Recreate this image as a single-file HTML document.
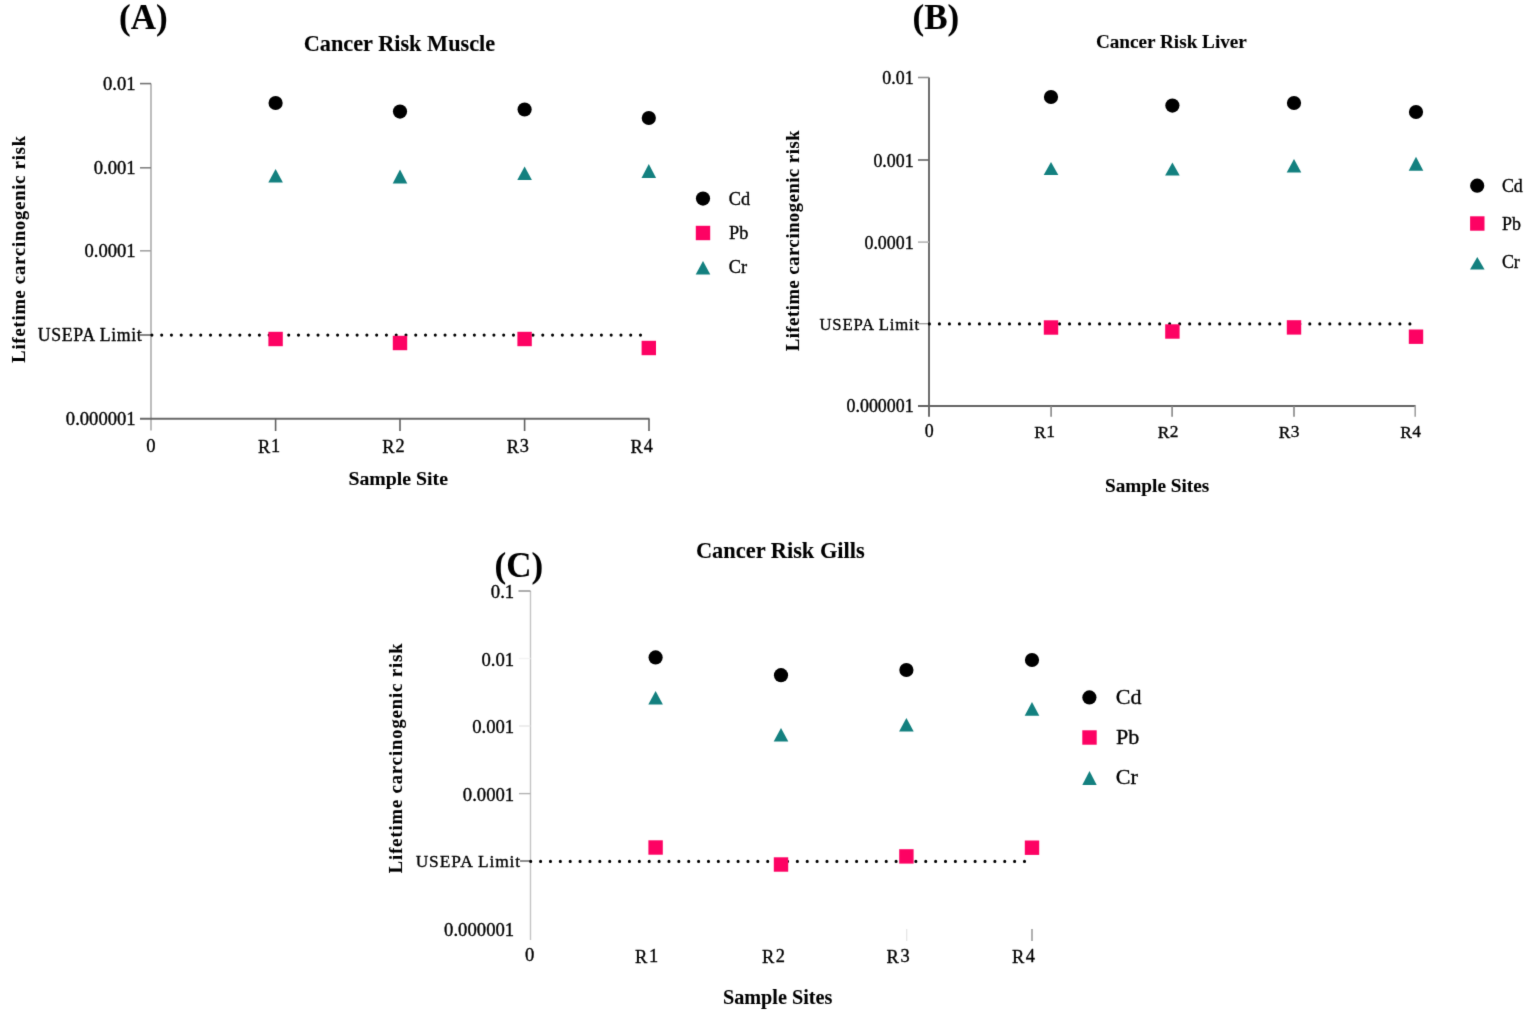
<!DOCTYPE html>
<html><head><meta charset="utf-8"><title>Cancer Risk</title>
<style>
html,body{margin:0;padding:0;background:#fff;}
body{width:1535px;height:1018px;overflow:hidden;}
svg{display:block;}
text{font-family:"Liberation Serif","Times New Roman",serif;stroke:#000;stroke-width:0.35px;}
text[font-weight=bold]{stroke-width:0.1px;}
</style></head><body>
<svg width="1535" height="1018" viewBox="0 0 1535 1018">
<defs><filter id="soft" x="0" y="0" width="1535" height="1018" filterUnits="userSpaceOnUse" color-interpolation-filters="sRGB"><feConvolveMatrix order="3" kernelMatrix="0.01134 0.08382 0.01134 0.08382 0.61935 0.08382 0.01134 0.08382 0.01134" divisor="1" edgeMode="duplicate" preserveAlpha="false"/></filter></defs>
<rect width="1535" height="1018" fill="#fff"/>
<g filter="url(#soft)" stroke-linejoin="round">
<text x="119.01" y="28.80" font-size="35.00" font-weight="bold" fill="#000">(A)</text>
<text x="303.64" y="51.30" font-size="22.30" font-weight="bold" fill="#000">Cancer Risk Muscle</text>
<text transform="translate(24.80,362.72) rotate(-90)" x="0" y="0" font-size="18.40" font-weight="bold" letter-spacing="0.87">Lifetime carcinogenic risk</text>
<line x1="151.00" y1="83.60" x2="151.00" y2="430.60" stroke="#acacac" stroke-width="1.6"/>
<line x1="140.00" y1="83.60" x2="151.00" y2="83.60" stroke="#747474" stroke-width="1.6"/>
<line x1="140.00" y1="167.80" x2="151.00" y2="167.80" stroke="#848484" stroke-width="1.6"/>
<line x1="140.00" y1="250.80" x2="151.00" y2="250.80" stroke="#a4a4a4" stroke-width="1.6"/>
<line x1="140.00" y1="335.00" x2="151.00" y2="335.00" stroke="#666" stroke-width="1.6"/>
<line x1="140.00" y1="418.70" x2="649.50" y2="418.70" stroke="#686868" stroke-width="2.0"/>
<line x1="275.60" y1="418.70" x2="275.60" y2="431.00" stroke="#606060" stroke-width="1.6"/>
<line x1="400.00" y1="418.70" x2="400.00" y2="431.00" stroke="#606060" stroke-width="1.6"/>
<line x1="524.60" y1="418.70" x2="524.60" y2="431.00" stroke="#606060" stroke-width="1.6"/>
<line x1="649.00" y1="418.70" x2="649.00" y2="431.00" stroke="#606060" stroke-width="1.6"/>
<text x="103.07" y="90.10" font-size="18.60" fill="#000">0.01</text>
<text x="93.77" y="174.30" font-size="18.60" fill="#000">0.001</text>
<text x="84.47" y="257.30" font-size="18.60" fill="#000">0.0001</text>
<text x="65.87" y="425.20" font-size="18.60" fill="#000">0.000001</text>
<text x="37.72" y="340.90" font-size="17.80" fill="#000" letter-spacing="0.64">USEPA Limit</text>
<text x="146.35" y="452.00" font-size="18.60" fill="#000">0</text>
<text x="258.03" y="453.30" font-size="18.30" letter-spacing="0.90">R<tspan dy="-1.20">1</tspan></text>
<text x="382.34" y="453.30" font-size="18.30" letter-spacing="0.90">R<tspan dy="-1.20">2</tspan></text>
<text x="506.67" y="453.30" font-size="18.30" letter-spacing="0.90">R<tspan dy="-1.20">3</tspan></text>
<text x="630.61" y="453.30" font-size="18.30" letter-spacing="0.90">R<tspan dy="-1.20">4</tspan></text>
<text x="348.46" y="485.00" font-size="19.80" font-weight="bold" fill="#000">Sample Site</text>
<path d="M150.35 335.10a1.55 1.55 0 1 0 3.10 0a1.55 1.55 0 1 0 -3.10 0M160.12 335.10a1.55 1.55 0 1 0 3.10 0a1.55 1.55 0 1 0 -3.10 0M169.89 335.10a1.55 1.55 0 1 0 3.10 0a1.55 1.55 0 1 0 -3.10 0M179.67 335.10a1.55 1.55 0 1 0 3.10 0a1.55 1.55 0 1 0 -3.10 0M189.44 335.10a1.55 1.55 0 1 0 3.10 0a1.55 1.55 0 1 0 -3.10 0M199.21 335.10a1.55 1.55 0 1 0 3.10 0a1.55 1.55 0 1 0 -3.10 0M208.98 335.10a1.55 1.55 0 1 0 3.10 0a1.55 1.55 0 1 0 -3.10 0M218.75 335.10a1.55 1.55 0 1 0 3.10 0a1.55 1.55 0 1 0 -3.10 0M228.53 335.10a1.55 1.55 0 1 0 3.10 0a1.55 1.55 0 1 0 -3.10 0M238.30 335.10a1.55 1.55 0 1 0 3.10 0a1.55 1.55 0 1 0 -3.10 0M248.07 335.10a1.55 1.55 0 1 0 3.10 0a1.55 1.55 0 1 0 -3.10 0M257.84 335.10a1.55 1.55 0 1 0 3.10 0a1.55 1.55 0 1 0 -3.10 0M267.61 335.10a1.55 1.55 0 1 0 3.10 0a1.55 1.55 0 1 0 -3.10 0M277.39 335.10a1.55 1.55 0 1 0 3.10 0a1.55 1.55 0 1 0 -3.10 0M287.16 335.10a1.55 1.55 0 1 0 3.10 0a1.55 1.55 0 1 0 -3.10 0M296.93 335.10a1.55 1.55 0 1 0 3.10 0a1.55 1.55 0 1 0 -3.10 0M306.70 335.10a1.55 1.55 0 1 0 3.10 0a1.55 1.55 0 1 0 -3.10 0M316.47 335.10a1.55 1.55 0 1 0 3.10 0a1.55 1.55 0 1 0 -3.10 0M326.25 335.10a1.55 1.55 0 1 0 3.10 0a1.55 1.55 0 1 0 -3.10 0M336.02 335.10a1.55 1.55 0 1 0 3.10 0a1.55 1.55 0 1 0 -3.10 0M345.79 335.10a1.55 1.55 0 1 0 3.10 0a1.55 1.55 0 1 0 -3.10 0M355.56 335.10a1.55 1.55 0 1 0 3.10 0a1.55 1.55 0 1 0 -3.10 0M365.33 335.10a1.55 1.55 0 1 0 3.10 0a1.55 1.55 0 1 0 -3.10 0M375.11 335.10a1.55 1.55 0 1 0 3.10 0a1.55 1.55 0 1 0 -3.10 0M384.88 335.10a1.55 1.55 0 1 0 3.10 0a1.55 1.55 0 1 0 -3.10 0M394.65 335.10a1.55 1.55 0 1 0 3.10 0a1.55 1.55 0 1 0 -3.10 0M404.42 335.10a1.55 1.55 0 1 0 3.10 0a1.55 1.55 0 1 0 -3.10 0M414.19 335.10a1.55 1.55 0 1 0 3.10 0a1.55 1.55 0 1 0 -3.10 0M423.97 335.10a1.55 1.55 0 1 0 3.10 0a1.55 1.55 0 1 0 -3.10 0M433.74 335.10a1.55 1.55 0 1 0 3.10 0a1.55 1.55 0 1 0 -3.10 0M443.51 335.10a1.55 1.55 0 1 0 3.10 0a1.55 1.55 0 1 0 -3.10 0M453.28 335.10a1.55 1.55 0 1 0 3.10 0a1.55 1.55 0 1 0 -3.10 0M463.05 335.10a1.55 1.55 0 1 0 3.10 0a1.55 1.55 0 1 0 -3.10 0M472.83 335.10a1.55 1.55 0 1 0 3.10 0a1.55 1.55 0 1 0 -3.10 0M482.60 335.10a1.55 1.55 0 1 0 3.10 0a1.55 1.55 0 1 0 -3.10 0M492.37 335.10a1.55 1.55 0 1 0 3.10 0a1.55 1.55 0 1 0 -3.10 0M502.14 335.10a1.55 1.55 0 1 0 3.10 0a1.55 1.55 0 1 0 -3.10 0M511.91 335.10a1.55 1.55 0 1 0 3.10 0a1.55 1.55 0 1 0 -3.10 0M521.69 335.10a1.55 1.55 0 1 0 3.10 0a1.55 1.55 0 1 0 -3.10 0M531.46 335.10a1.55 1.55 0 1 0 3.10 0a1.55 1.55 0 1 0 -3.10 0M541.23 335.10a1.55 1.55 0 1 0 3.10 0a1.55 1.55 0 1 0 -3.10 0M551.00 335.10a1.55 1.55 0 1 0 3.10 0a1.55 1.55 0 1 0 -3.10 0M560.77 335.10a1.55 1.55 0 1 0 3.10 0a1.55 1.55 0 1 0 -3.10 0M570.55 335.10a1.55 1.55 0 1 0 3.10 0a1.55 1.55 0 1 0 -3.10 0M580.32 335.10a1.55 1.55 0 1 0 3.10 0a1.55 1.55 0 1 0 -3.10 0M590.09 335.10a1.55 1.55 0 1 0 3.10 0a1.55 1.55 0 1 0 -3.10 0M599.86 335.10a1.55 1.55 0 1 0 3.10 0a1.55 1.55 0 1 0 -3.10 0M609.63 335.10a1.55 1.55 0 1 0 3.10 0a1.55 1.55 0 1 0 -3.10 0M619.41 335.10a1.55 1.55 0 1 0 3.10 0a1.55 1.55 0 1 0 -3.10 0M629.18 335.10a1.55 1.55 0 1 0 3.10 0a1.55 1.55 0 1 0 -3.10 0M638.95 335.10a1.55 1.55 0 1 0 3.10 0a1.55 1.55 0 1 0 -3.10 0" fill="#000"/>
<circle cx="275.60" cy="103.00" r="7.10" fill="#000"/>
<polygon points="275.60,169.00 282.90,182.60 268.30,182.60" fill="#13807f"/>
<rect x="268.40" y="331.80" width="14.40" height="14.40" fill="#fd0263"/>
<circle cx="400.00" cy="111.60" r="7.10" fill="#000"/>
<polygon points="400.00,169.60 407.30,183.40 392.70,183.40" fill="#13807f"/>
<rect x="392.80" y="335.80" width="14.40" height="14.40" fill="#fd0263"/>
<circle cx="524.60" cy="109.50" r="7.10" fill="#000"/>
<polygon points="524.60,166.40 531.90,180.00 517.30,180.00" fill="#13807f"/>
<rect x="517.40" y="331.80" width="14.40" height="14.40" fill="#fd0263"/>
<circle cx="648.80" cy="118.00" r="7.10" fill="#000"/>
<polygon points="648.80,164.00 656.10,178.00 641.50,178.00" fill="#13807f"/>
<rect x="641.60" y="340.80" width="14.40" height="14.40" fill="#fd0263"/>
<circle cx="703.00" cy="198.60" r="7.10" fill="#000"/>
<rect x="695.80" y="225.80" width="14.40" height="14.40" fill="#fd0263"/>
<polygon points="703.00,261.00 710.30,274.40 695.70,274.40" fill="#13807f"/>
<text x="728.77" y="205.00" font-size="18.30" fill="#000">Cd</text>
<text x="729.00" y="239.00" font-size="18.30" fill="#000">Pb</text>
<text x="728.77" y="273.00" font-size="18.30" fill="#000">Cr</text>
<text x="912.51" y="28.80" font-size="35.00" font-weight="bold" fill="#000">(B)</text>
<text x="1095.89" y="48.00" font-size="19.20" font-weight="bold" fill="#000">Cancer Risk Liver</text>
<text transform="translate(799.30,351.12) rotate(-90)" x="0" y="0" font-size="18.40" font-weight="bold" letter-spacing="0.63">Lifetime carcinogenic risk</text>
<line x1="929.00" y1="77.50" x2="929.00" y2="416.80" stroke="#5c5c5c" stroke-width="1.8"/>
<line x1="918.00" y1="77.50" x2="929.00" y2="77.50" stroke="#909090" stroke-width="1.6"/>
<line x1="918.00" y1="160.00" x2="929.00" y2="160.00" stroke="#626262" stroke-width="1.6"/>
<line x1="918.00" y1="242.10" x2="929.00" y2="242.10" stroke="#b4b4b4" stroke-width="1.6"/>
<line x1="918.00" y1="323.70" x2="929.00" y2="323.70" stroke="#9a9a9a" stroke-width="1.3"/>
<line x1="918.00" y1="406.00" x2="1415.60" y2="406.00" stroke="#646464" stroke-width="2.0"/>
<line x1="1051.10" y1="406.00" x2="1051.10" y2="416.80" stroke="#868686" stroke-width="1.6"/>
<line x1="1172.10" y1="406.00" x2="1172.10" y2="416.80" stroke="#868686" stroke-width="1.6"/>
<line x1="1294.00" y1="406.00" x2="1294.00" y2="416.80" stroke="#868686" stroke-width="1.6"/>
<line x1="1415.20" y1="406.00" x2="1415.20" y2="416.80" stroke="#a0a0a0" stroke-width="1.6"/>
<text x="882.35" y="84.40" font-size="17.90" fill="#000">0.01</text>
<text x="873.40" y="167.00" font-size="17.90" fill="#000">0.001</text>
<text x="864.45" y="248.70" font-size="17.90" fill="#000">0.0001</text>
<text x="846.55" y="412.00" font-size="17.90" fill="#000">0.000001</text>
<text x="819.47" y="329.60" font-size="16.70" fill="#000" letter-spacing="0.80">USEPA Limit</text>
<text x="924.73" y="437.00" font-size="17.90" fill="#000">0</text>
<text x="1034.33" y="438.20" font-size="17.40" letter-spacing="0.30">R<tspan dy="-1.20">1</tspan></text>
<text x="1157.74" y="438.20" font-size="17.40" letter-spacing="0.30">R<tspan dy="-1.20">2</tspan></text>
<text x="1278.78" y="438.20" font-size="17.40" letter-spacing="0.30">R<tspan dy="-1.20">3</tspan></text>
<text x="1400.35" y="438.20" font-size="17.40" letter-spacing="0.30">R<tspan dy="-1.20">4</tspan></text>
<text x="1104.99" y="491.80" font-size="19.25" font-weight="bold" fill="#000">Sample Sites</text>
<path d="M927.85 323.90a1.55 1.55 0 1 0 3.10 0a1.55 1.55 0 1 0 -3.10 0M937.86 323.90a1.55 1.55 0 1 0 3.10 0a1.55 1.55 0 1 0 -3.10 0M947.87 323.90a1.55 1.55 0 1 0 3.10 0a1.55 1.55 0 1 0 -3.10 0M957.88 323.90a1.55 1.55 0 1 0 3.10 0a1.55 1.55 0 1 0 -3.10 0M967.89 323.90a1.55 1.55 0 1 0 3.10 0a1.55 1.55 0 1 0 -3.10 0M977.90 323.90a1.55 1.55 0 1 0 3.10 0a1.55 1.55 0 1 0 -3.10 0M987.91 323.90a1.55 1.55 0 1 0 3.10 0a1.55 1.55 0 1 0 -3.10 0M997.92 323.90a1.55 1.55 0 1 0 3.10 0a1.55 1.55 0 1 0 -3.10 0M1007.93 323.90a1.55 1.55 0 1 0 3.10 0a1.55 1.55 0 1 0 -3.10 0M1017.94 323.90a1.55 1.55 0 1 0 3.10 0a1.55 1.55 0 1 0 -3.10 0M1027.95 323.90a1.55 1.55 0 1 0 3.10 0a1.55 1.55 0 1 0 -3.10 0M1037.96 323.90a1.55 1.55 0 1 0 3.10 0a1.55 1.55 0 1 0 -3.10 0M1047.98 323.90a1.55 1.55 0 1 0 3.10 0a1.55 1.55 0 1 0 -3.10 0M1057.99 323.90a1.55 1.55 0 1 0 3.10 0a1.55 1.55 0 1 0 -3.10 0M1068.00 323.90a1.55 1.55 0 1 0 3.10 0a1.55 1.55 0 1 0 -3.10 0M1078.01 323.90a1.55 1.55 0 1 0 3.10 0a1.55 1.55 0 1 0 -3.10 0M1088.02 323.90a1.55 1.55 0 1 0 3.10 0a1.55 1.55 0 1 0 -3.10 0M1098.03 323.90a1.55 1.55 0 1 0 3.10 0a1.55 1.55 0 1 0 -3.10 0M1108.04 323.90a1.55 1.55 0 1 0 3.10 0a1.55 1.55 0 1 0 -3.10 0M1118.05 323.90a1.55 1.55 0 1 0 3.10 0a1.55 1.55 0 1 0 -3.10 0M1128.06 323.90a1.55 1.55 0 1 0 3.10 0a1.55 1.55 0 1 0 -3.10 0M1138.07 323.90a1.55 1.55 0 1 0 3.10 0a1.55 1.55 0 1 0 -3.10 0M1148.08 323.90a1.55 1.55 0 1 0 3.10 0a1.55 1.55 0 1 0 -3.10 0M1158.09 323.90a1.55 1.55 0 1 0 3.10 0a1.55 1.55 0 1 0 -3.10 0M1168.10 323.90a1.55 1.55 0 1 0 3.10 0a1.55 1.55 0 1 0 -3.10 0M1178.11 323.90a1.55 1.55 0 1 0 3.10 0a1.55 1.55 0 1 0 -3.10 0M1188.12 323.90a1.55 1.55 0 1 0 3.10 0a1.55 1.55 0 1 0 -3.10 0M1198.13 323.90a1.55 1.55 0 1 0 3.10 0a1.55 1.55 0 1 0 -3.10 0M1208.14 323.90a1.55 1.55 0 1 0 3.10 0a1.55 1.55 0 1 0 -3.10 0M1218.15 323.90a1.55 1.55 0 1 0 3.10 0a1.55 1.55 0 1 0 -3.10 0M1228.16 323.90a1.55 1.55 0 1 0 3.10 0a1.55 1.55 0 1 0 -3.10 0M1238.17 323.90a1.55 1.55 0 1 0 3.10 0a1.55 1.55 0 1 0 -3.10 0M1248.18 323.90a1.55 1.55 0 1 0 3.10 0a1.55 1.55 0 1 0 -3.10 0M1258.19 323.90a1.55 1.55 0 1 0 3.10 0a1.55 1.55 0 1 0 -3.10 0M1268.20 323.90a1.55 1.55 0 1 0 3.10 0a1.55 1.55 0 1 0 -3.10 0M1278.21 323.90a1.55 1.55 0 1 0 3.10 0a1.55 1.55 0 1 0 -3.10 0M1288.23 323.90a1.55 1.55 0 1 0 3.10 0a1.55 1.55 0 1 0 -3.10 0M1298.24 323.90a1.55 1.55 0 1 0 3.10 0a1.55 1.55 0 1 0 -3.10 0M1308.25 323.90a1.55 1.55 0 1 0 3.10 0a1.55 1.55 0 1 0 -3.10 0M1318.26 323.90a1.55 1.55 0 1 0 3.10 0a1.55 1.55 0 1 0 -3.10 0M1328.27 323.90a1.55 1.55 0 1 0 3.10 0a1.55 1.55 0 1 0 -3.10 0M1338.28 323.90a1.55 1.55 0 1 0 3.10 0a1.55 1.55 0 1 0 -3.10 0M1348.29 323.90a1.55 1.55 0 1 0 3.10 0a1.55 1.55 0 1 0 -3.10 0M1358.30 323.90a1.55 1.55 0 1 0 3.10 0a1.55 1.55 0 1 0 -3.10 0M1368.31 323.90a1.55 1.55 0 1 0 3.10 0a1.55 1.55 0 1 0 -3.10 0M1378.32 323.90a1.55 1.55 0 1 0 3.10 0a1.55 1.55 0 1 0 -3.10 0M1388.33 323.90a1.55 1.55 0 1 0 3.10 0a1.55 1.55 0 1 0 -3.10 0M1398.34 323.90a1.55 1.55 0 1 0 3.10 0a1.55 1.55 0 1 0 -3.10 0M1408.35 323.90a1.55 1.55 0 1 0 3.10 0a1.55 1.55 0 1 0 -3.10 0" fill="#000"/>
<circle cx="1051.00" cy="97.00" r="7.10" fill="#000"/>
<polygon points="1051.00,162.00 1058.30,175.00 1043.70,175.00" fill="#13807f"/>
<rect x="1043.80" y="320.30" width="14.40" height="14.40" fill="#fd0263"/>
<circle cx="1172.40" cy="105.60" r="7.10" fill="#000"/>
<polygon points="1172.40,162.40 1179.70,175.60 1165.10,175.60" fill="#13807f"/>
<rect x="1165.20" y="324.30" width="14.40" height="14.40" fill="#fd0263"/>
<circle cx="1294.00" cy="103.00" r="7.10" fill="#000"/>
<polygon points="1294.00,159.00 1301.30,172.40 1286.70,172.40" fill="#13807f"/>
<rect x="1286.80" y="320.20" width="14.40" height="14.40" fill="#fd0263"/>
<circle cx="1416.00" cy="112.00" r="7.10" fill="#000"/>
<polygon points="1416.00,156.70 1423.30,170.80 1408.70,170.80" fill="#13807f"/>
<rect x="1408.80" y="329.50" width="14.40" height="14.40" fill="#fd0263"/>
<circle cx="1477.20" cy="185.70" r="7.10" fill="#000"/>
<rect x="1470.10" y="216.30" width="14.40" height="14.40" fill="#fd0263"/>
<polygon points="1477.30,256.90 1484.60,269.60 1470.00,269.60" fill="#13807f"/>
<text x="1501.88" y="191.60" font-size="17.90" fill="#000">Cd</text>
<text x="1502.11" y="229.70" font-size="17.90" fill="#000">Pb</text>
<text x="1501.88" y="268.00" font-size="17.90" fill="#000">Cr</text>
<text x="494.51" y="576.50" font-size="35.00" font-weight="bold" fill="#000">(C)</text>
<text x="695.94" y="558.00" font-size="22.40" font-weight="bold" fill="#000">Cancer Risk Gills</text>
<text transform="translate(402.20,873.22) rotate(-90)" x="0" y="0" font-size="18.40" font-weight="bold" letter-spacing="0.99">Lifetime carcinogenic risk</text>
<line x1="530.50" y1="591.00" x2="530.50" y2="940.00" stroke="#c4c4c4" stroke-width="1.4"/>
<line x1="518.50" y1="591.00" x2="530.50" y2="591.00" stroke="#8a8a8a" stroke-width="1.4"/>
<line x1="519.00" y1="658.50" x2="530.50" y2="658.50" stroke="#f3f3f3" stroke-width="1.4"/>
<line x1="519.00" y1="726.00" x2="530.50" y2="726.00" stroke="#e6e6e6" stroke-width="1.4"/>
<line x1="519.00" y1="793.60" x2="530.50" y2="793.60" stroke="#b2b2b2" stroke-width="1.4"/>
<line x1="520.00" y1="861.00" x2="530.50" y2="861.00" stroke="#707070" stroke-width="1.6"/>
<text x="490.85" y="598.00" font-size="18.70" fill="#000">0.1</text>
<text x="481.50" y="665.50" font-size="18.70" fill="#000">0.01</text>
<text x="472.15" y="733.00" font-size="18.70" fill="#000">0.001</text>
<text x="462.80" y="800.60" font-size="18.70" fill="#000">0.0001</text>
<text x="444.10" y="935.50" font-size="18.70" fill="#000">0.000001</text>
<text x="415.65" y="867.40" font-size="17.40" fill="#000" letter-spacing="0.90">USEPA Limit</text>
<text x="525.12" y="961.00" font-size="18.70" fill="#000">0</text>
<text x="635.02" y="962.80" font-size="18.40" letter-spacing="1.60">R<tspan dy="-1.20">1</tspan></text>
<text x="761.93" y="962.80" font-size="18.40" letter-spacing="1.60">R<tspan dy="-1.20">2</tspan></text>
<text x="886.55" y="962.80" font-size="18.40" letter-spacing="1.60">R<tspan dy="-1.20">3</tspan></text>
<text x="1011.99" y="962.80" font-size="18.40" letter-spacing="1.60">R<tspan dy="-1.20">4</tspan></text>
<line x1="1032.00" y1="929.00" x2="1032.00" y2="941.00" stroke="#909090" stroke-width="1.4"/>
<line x1="906.70" y1="929.00" x2="906.70" y2="941.00" stroke="#e4e4e4" stroke-width="1.2"/>
<text x="722.94" y="1004.00" font-size="20.20" font-weight="bold" fill="#000">Sample Sites</text>
<path d="M529.15 861.40a1.55 1.55 0 1 0 3.10 0a1.55 1.55 0 1 0 -3.10 0M539.03 861.40a1.55 1.55 0 1 0 3.10 0a1.55 1.55 0 1 0 -3.10 0M548.90 861.40a1.55 1.55 0 1 0 3.10 0a1.55 1.55 0 1 0 -3.10 0M558.78 861.40a1.55 1.55 0 1 0 3.10 0a1.55 1.55 0 1 0 -3.10 0M568.65 861.40a1.55 1.55 0 1 0 3.10 0a1.55 1.55 0 1 0 -3.10 0M578.53 861.40a1.55 1.55 0 1 0 3.10 0a1.55 1.55 0 1 0 -3.10 0M588.41 861.40a1.55 1.55 0 1 0 3.10 0a1.55 1.55 0 1 0 -3.10 0M598.28 861.40a1.55 1.55 0 1 0 3.10 0a1.55 1.55 0 1 0 -3.10 0M608.16 861.40a1.55 1.55 0 1 0 3.10 0a1.55 1.55 0 1 0 -3.10 0M618.03 861.40a1.55 1.55 0 1 0 3.10 0a1.55 1.55 0 1 0 -3.10 0M627.91 861.40a1.55 1.55 0 1 0 3.10 0a1.55 1.55 0 1 0 -3.10 0M637.79 861.40a1.55 1.55 0 1 0 3.10 0a1.55 1.55 0 1 0 -3.10 0M647.66 861.40a1.55 1.55 0 1 0 3.10 0a1.55 1.55 0 1 0 -3.10 0M657.54 861.40a1.55 1.55 0 1 0 3.10 0a1.55 1.55 0 1 0 -3.10 0M667.41 861.40a1.55 1.55 0 1 0 3.10 0a1.55 1.55 0 1 0 -3.10 0M677.29 861.40a1.55 1.55 0 1 0 3.10 0a1.55 1.55 0 1 0 -3.10 0M687.17 861.40a1.55 1.55 0 1 0 3.10 0a1.55 1.55 0 1 0 -3.10 0M697.04 861.40a1.55 1.55 0 1 0 3.10 0a1.55 1.55 0 1 0 -3.10 0M706.92 861.40a1.55 1.55 0 1 0 3.10 0a1.55 1.55 0 1 0 -3.10 0M716.79 861.40a1.55 1.55 0 1 0 3.10 0a1.55 1.55 0 1 0 -3.10 0M726.67 861.40a1.55 1.55 0 1 0 3.10 0a1.55 1.55 0 1 0 -3.10 0M736.55 861.40a1.55 1.55 0 1 0 3.10 0a1.55 1.55 0 1 0 -3.10 0M746.42 861.40a1.55 1.55 0 1 0 3.10 0a1.55 1.55 0 1 0 -3.10 0M756.30 861.40a1.55 1.55 0 1 0 3.10 0a1.55 1.55 0 1 0 -3.10 0M766.17 861.40a1.55 1.55 0 1 0 3.10 0a1.55 1.55 0 1 0 -3.10 0M776.05 861.40a1.55 1.55 0 1 0 3.10 0a1.55 1.55 0 1 0 -3.10 0M785.93 861.40a1.55 1.55 0 1 0 3.10 0a1.55 1.55 0 1 0 -3.10 0M795.80 861.40a1.55 1.55 0 1 0 3.10 0a1.55 1.55 0 1 0 -3.10 0M805.68 861.40a1.55 1.55 0 1 0 3.10 0a1.55 1.55 0 1 0 -3.10 0M815.55 861.40a1.55 1.55 0 1 0 3.10 0a1.55 1.55 0 1 0 -3.10 0M825.43 861.40a1.55 1.55 0 1 0 3.10 0a1.55 1.55 0 1 0 -3.10 0M835.31 861.40a1.55 1.55 0 1 0 3.10 0a1.55 1.55 0 1 0 -3.10 0M845.18 861.40a1.55 1.55 0 1 0 3.10 0a1.55 1.55 0 1 0 -3.10 0M855.06 861.40a1.55 1.55 0 1 0 3.10 0a1.55 1.55 0 1 0 -3.10 0M864.93 861.40a1.55 1.55 0 1 0 3.10 0a1.55 1.55 0 1 0 -3.10 0M874.81 861.40a1.55 1.55 0 1 0 3.10 0a1.55 1.55 0 1 0 -3.10 0M884.69 861.40a1.55 1.55 0 1 0 3.10 0a1.55 1.55 0 1 0 -3.10 0M894.56 861.40a1.55 1.55 0 1 0 3.10 0a1.55 1.55 0 1 0 -3.10 0M904.44 861.40a1.55 1.55 0 1 0 3.10 0a1.55 1.55 0 1 0 -3.10 0M914.31 861.40a1.55 1.55 0 1 0 3.10 0a1.55 1.55 0 1 0 -3.10 0M924.19 861.40a1.55 1.55 0 1 0 3.10 0a1.55 1.55 0 1 0 -3.10 0M934.07 861.40a1.55 1.55 0 1 0 3.10 0a1.55 1.55 0 1 0 -3.10 0M943.94 861.40a1.55 1.55 0 1 0 3.10 0a1.55 1.55 0 1 0 -3.10 0M953.82 861.40a1.55 1.55 0 1 0 3.10 0a1.55 1.55 0 1 0 -3.10 0M963.69 861.40a1.55 1.55 0 1 0 3.10 0a1.55 1.55 0 1 0 -3.10 0M973.57 861.40a1.55 1.55 0 1 0 3.10 0a1.55 1.55 0 1 0 -3.10 0M983.45 861.40a1.55 1.55 0 1 0 3.10 0a1.55 1.55 0 1 0 -3.10 0M993.32 861.40a1.55 1.55 0 1 0 3.10 0a1.55 1.55 0 1 0 -3.10 0M1003.20 861.40a1.55 1.55 0 1 0 3.10 0a1.55 1.55 0 1 0 -3.10 0M1013.07 861.40a1.55 1.55 0 1 0 3.10 0a1.55 1.55 0 1 0 -3.10 0M1022.95 861.40a1.55 1.55 0 1 0 3.10 0a1.55 1.55 0 1 0 -3.10 0" fill="#000"/>
<circle cx="655.60" cy="657.40" r="7.10" fill="#000"/>
<polygon points="655.60,691.00 662.90,704.40 648.30,704.40" fill="#13807f"/>
<rect x="648.40" y="840.30" width="14.40" height="14.40" fill="#fd0263"/>
<circle cx="781.00" cy="675.20" r="7.10" fill="#000"/>
<polygon points="781.00,728.00 788.30,741.60 773.70,741.60" fill="#13807f"/>
<rect x="773.80" y="857.30" width="14.40" height="14.40" fill="#fd0263"/>
<circle cx="906.40" cy="670.00" r="7.10" fill="#000"/>
<polygon points="906.40,718.00 913.70,731.60 899.10,731.60" fill="#13807f"/>
<rect x="899.20" y="849.20" width="14.40" height="14.40" fill="#fd0263"/>
<circle cx="1032.00" cy="660.00" r="7.10" fill="#000"/>
<polygon points="1032.00,702.00 1039.30,715.70 1024.70,715.70" fill="#13807f"/>
<rect x="1024.80" y="840.50" width="14.40" height="14.40" fill="#fd0263"/>
<circle cx="1089.40" cy="697.40" r="7.10" fill="#000"/>
<rect x="1082.30" y="730.30" width="14.40" height="14.40" fill="#fd0263"/>
<polygon points="1089.50,771.10 1096.70,784.90 1082.30,784.90" fill="#13807f"/>
<text x="1115.72" y="704.00" font-size="22.00" fill="#000">Cd</text>
<text x="1115.99" y="743.90" font-size="22.00" fill="#000">Pb</text>
<text x="1115.72" y="783.80" font-size="22.00" fill="#000">Cr</text>
</g>
</svg>
</body></html>
